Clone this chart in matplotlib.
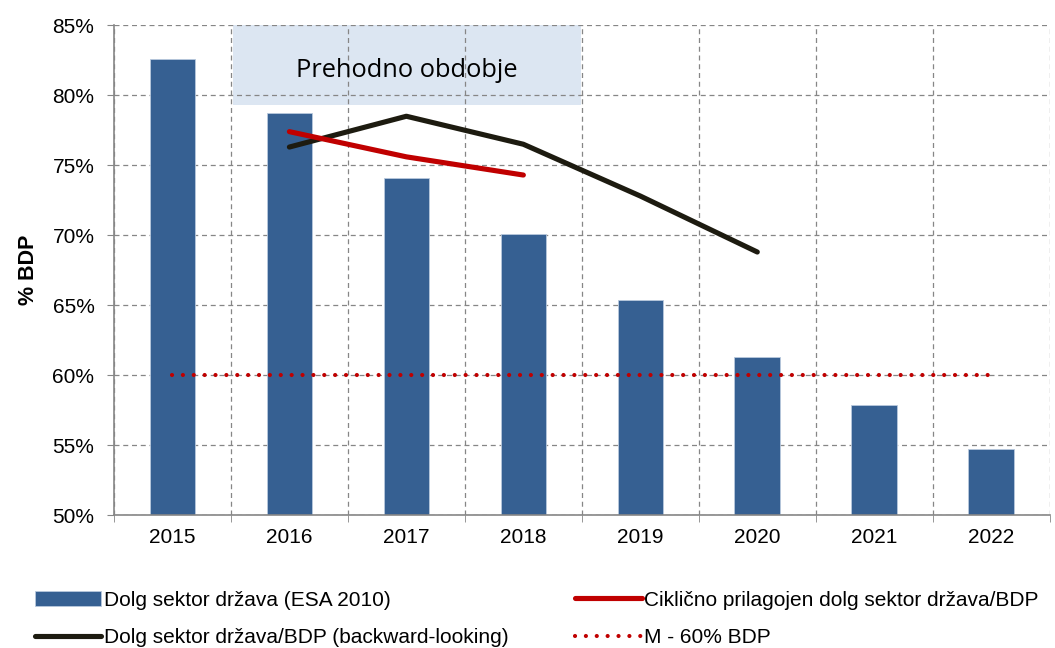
import numpy as np
import matplotlib.pyplot as plt
from matplotlib.patches import Rectangle

years = ['2015', '2016', '2017', '2018', '2019', '2020', '2021', '2022']
debt = [82.6, 78.7, 74.1, 70.1, 65.4, 61.3, 57.9, 54.7]
cyc_years = ['2016', '2017', '2018']
cyc_adjusted = [77.4, 75.6, 74.3]
back_years = ['2016', '2017', '2018', '2019', '2020']
backward = [76.3, 78.5, 76.5, 72.8, 68.8]
limit = [60.0] * len(years)
yticks = [50, 55, 60, 65, 70, 75, 80, 85]

plt.rcParams['font.family'] = ['Liberation Sans', 'DejaVu Sans']

fig = plt.figure(figsize=(10.55, 6.48), dpi=100)
ax = fig.add_axes([0.108, 0.205, 0.887, 0.756])

x = np.arange(len(years))
idx = {y: i for i, y in enumerate(years)}

# transition period box
ax.add_patch(Rectangle((0.517, 79.3), 2.975, 5.7, facecolor='#dce6f2',
                       edgecolor='none', zorder=0.5))
ax.text(2.0, 81.3, 'Prehodno obdobje', ha='center', va='baseline',
        fontsize=18.3, family=['Open Sans', 'DejaVu Sans'], zorder=3)

bars = ax.bar(x, debt, width=0.39, color='#366092', edgecolor='#b9c9dd',
              linewidth=0.6, zorder=2, label='Dolg sektor država (ESA 2010)')
l_back, = ax.plot([idx[y] for y in back_years], backward, color='#1d1b10', lw=3.7,
                  solid_capstyle='round', zorder=4,
                  label='Dolg sektor država/BDP (backward-looking)')
l_cyc, = ax.plot([idx[y] for y in cyc_years], cyc_adjusted, color='#c00000', lw=3.7,
                 solid_capstyle='round', zorder=4,
                 label='Ciklično prilagojen dolg sektor država/BDP')
l_lim, = ax.plot(x, limit, color='#c00000', lw=3.0, linestyle=(0, (0.01, 2.6)),
                 dash_capstyle='round', zorder=4, label='M - 60% BDP')

ax.set_xlim(-0.5, len(years) - 0.5)
ax.set_ylim(50, 85)
ax.set_yticks(yticks)
ax.set_yticklabels([f'{t}%' for t in yticks], fontsize=15)
ax.set_xticks(x)
ax.set_xticklabels(years, fontsize=15)
ax.set_xticks(np.arange(len(years) + 1) - 0.5, minor=True)
ax.tick_params(axis='x', which='major', length=0, pad=9)
ax.tick_params(axis='x', which='minor', length=5, color='#868686')
ax.tick_params(axis='y', length=5, color='#868686', pad=9)
ax.set_ylabel('% BDP', fontsize=15.5, fontweight='bold', labelpad=10)

ax.grid(axis='y', linestyle=(0, (4, 3)), color='#868686', lw=0.9, zorder=1)
ax.grid(axis='x', which='minor', linestyle=(0, (4, 3)), color='#868686', lw=0.9, zorder=1)
ax.set_axisbelow(True)
for s in ['top', 'right']:
    ax.spines[s].set_visible(False)
for s in ['left', 'bottom']:
    ax.spines[s].set_color('#868686')
    ax.spines[s].set_linewidth(1.2)

fig.legend(handles=[bars, l_back, l_cyc, l_lim], ncol=2, loc='lower left',
           bbox_to_anchor=(0.025, -0.012), frameon=False, fontsize=15,
           handlelength=3.2, handletextpad=0.12, columnspacing=3.2,
           labelspacing=0.9, borderaxespad=0.0)

fig.savefig('out.png', dpi=100)
